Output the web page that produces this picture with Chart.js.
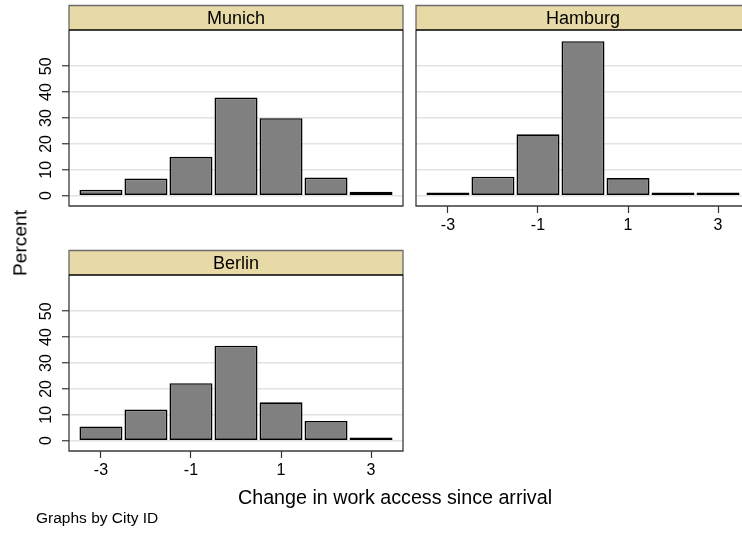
<!DOCTYPE html>
<html>
<head>
<meta charset="utf-8">
<script src="https://cdn.jsdelivr.net/npm/chart.js@4/dist/chart.umd.min.js"></script>
<style>
  html, body { margin: 0; padding: 0; width: 742px; height: 533px; overflow: hidden; background: #fff; }
  canvas { position: absolute; }
  .txt { position: absolute; font-family: 'Liberation Sans', Arial, sans-serif; color: #000; white-space: nowrap; line-height: 1; z-index: 2; }
</style>
</head>
<body>
<canvas id="munich" width="420" height="245" style="left:0;top:0"></canvas>
<canvas id="hamburg" width="420" height="260" style="left:347px;top:0"></canvas>
<canvas id="berlin" width="420" height="260" style="left:0;top:245px"></canvas>

<div class="txt" id="ytitle" style="font-size:19.2px;left:20px;top:243px;transform:translate(-50%,-50%) rotate(-90deg);">Percent</div>
<div class="txt" style="font-size:19.7px;left:395px;top:488px;transform:translateX(-50%);">Change in work access since arrival</div>
<div class="txt" style="font-size:15.5px;left:36px;top:510px;">Graphs by City ID</div>

<script>
// Histogram bins (change in work access) and percent per bin for each city
const bins = [-3, -2, -1, 0, 1, 2, 3];
const munichPct = [2.3, 6.6, 15.0, 37.9, 29.9, 7.0, 1.5];
const hamburgPct = [1.2, 7.3, 23.7, 59.7, 6.8, 1.2, 1.2];
const berlinPct = [5.5, 12.0, 22.2, 36.7, 14.8, 7.6, 1.2];

// Axis ticks
const yTicks = [0, 10, 20, 30, 40, 50];
const xTicks = [-3, -1, 1, 3];

Chart.defaults.font.family = "'Liberation Sans', Arial, sans-serif";
Chart.defaults.color = '#000';

// Draws the khaki title strip above each plot and the frame around the plot
const stripPlugin = {
  id: 'cityStrip',
  afterDraw(chart, args, opts) {
    const { ctx, chartArea: a } = chart;
    const top = a.top - opts.height;
    ctx.save();
    ctx.fillStyle = opts.fill;
    ctx.fillRect(a.left, top, a.right - a.left, opts.height);
    ctx.lineWidth = 1.3;
    ctx.strokeStyle = opts.edgeColor;
    ctx.beginPath();
    ctx.moveTo(a.left, a.top);
    ctx.lineTo(a.left, top);
    ctx.lineTo(a.right, top);
    ctx.lineTo(a.right, a.top);
    ctx.stroke();
    ctx.strokeStyle = opts.frameColor;
    ctx.beginPath();
    ctx.moveTo(a.left, a.top);
    ctx.lineTo(a.left, a.bottom);
    ctx.lineTo(a.right, a.bottom);
    ctx.lineTo(a.right, a.top);
    ctx.stroke();
    ctx.strokeStyle = '#000';
    ctx.beginPath();
    ctx.moveTo(a.left, a.top);
    ctx.lineTo(a.right, a.top);
    ctx.stroke();
    ctx.fillStyle = '#000';
    ctx.font = "18px 'Liberation Sans', Arial, sans-serif";
    ctx.textAlign = 'center';
    ctx.textBaseline = 'alphabetic';
    ctx.fillText(opts.label, (a.left + a.right) / 2, a.top - 6.5);
    ctx.restore();
  }
};

function makePanel(id, label, values, showY, showX, canvasH) {
  const points = bins.map((b, i) => ({ x: b, y: values[i] }));
  const xAxisH = showX ? 40 : 0;
  return new Chart(document.getElementById(id), {
    type: 'bar',
    data: {
      datasets: [{
        data: points,
        backgroundColor: '#808080',
        borderColor: '#000',
        borderWidth: 1.6,
        borderSkipped: false,
        barPercentage: 0.955,
        categoryPercentage: 1.0
      }]
    },
    options: {
      responsive: false,
      animation: false,
      devicePixelRatio: 1,
      layout: { padding: { left: 0, top: 30, right: 17, bottom: canvasH - 206 - xAxisH } },
      plugins: {
        legend: { display: false },
        tooltip: { enabled: false },
        cityStrip: { label, height: 24.5, fill: '#E8DAA7', edgeColor: '#6a6a6a', frameColor: '#3a3a3a' }
      },
      scales: {
        x: {
          type: 'linear',
          min: -3.71,
          max: 3.71,
          offset: false,
          display: showX,
          border: { display: false },
          grid: { offset: false, drawOnChartArea: false, drawTicks: true, tickLength: 7, tickColor: '#333', tickWidth: 1.2 },
          ticks: { font: { size: 16 }, padding: 3, autoSkip: false, maxRotation: 0, callback: v => String(v) },
          afterBuildTicks: s => { s.ticks = xTicks.map(v => ({ value: v })); },
          afterFit: s => { s.height = xAxisH; }
        },
        y: {
          min: -4,
          max: 64,
          border: { display: false },
          grid: { color: '#e3e3e3', lineWidth: 1.5, drawTicks: showY, tickLength: 7, tickColor: '#333', tickWidth: 1.2 },
          ticks: { display: showY, font: { size: 16 }, minRotation: 90, maxRotation: 90, crossAlign: 'center', padding: 7, autoSkip: false, callback: v => String(v) },
          afterBuildTicks: s => { s.ticks = yTicks.map(v => ({ value: v })); },
          afterFit: s => { s.width = 69; }
        }
      }
    },
    plugins: [stripPlugin]
  });
}

makePanel('munich', 'Munich', munichPct, true, false, 245);
makePanel('hamburg', 'Hamburg', hamburgPct, false, true, 260);
makePanel('berlin', 'Berlin', berlinPct, true, true, 260);
</script>
</body>
</html>
